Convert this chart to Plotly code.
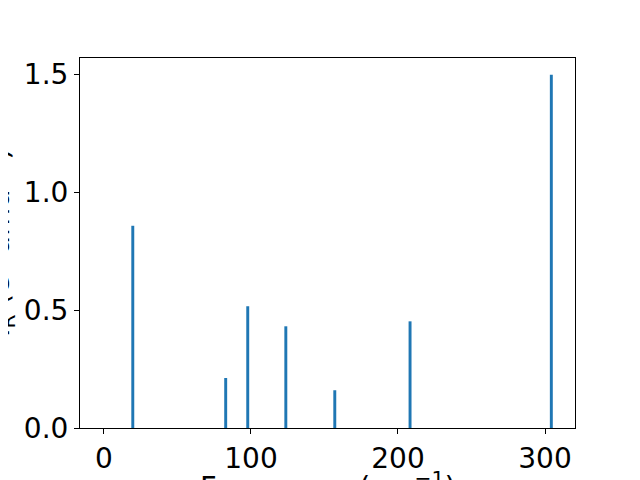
import plotly.graph_objects as go

frequencies = [19.6, 82.8, 97.8, 123.7, 157.0, 208.2, 304.3]
intensities = [0.857, 0.212, 0.516, 0.431, 0.160, 0.452, 1.497]
x_ticks = [0, 100, 200, 300]
y_ticks = [0.0, 0.5, 1.0, 1.5]
x_title = "Frequency (cm<sup>−1</sup>)"
y_title = "I<sub>R</sub> (e<sup>2</sup> amu<sup>−1</sup>)"

fig = go.Figure(go.Bar(x=frequencies, y=intensities, width=2.0,
                       marker=dict(color="#1f77b4", line=dict(width=0))))

font = dict(family="DejaVu Sans", size=28, color="black")
title_font = dict(family="DejaVu Sans", size=29, color="black")
axis_common = dict(showgrid=False, zeroline=False, showline=True, linecolor="black",
                   linewidth=1, mirror=True, ticks="outside", ticklen=5, tickcolor="black",
                   tickfont=font, automargin=False)

# page body offset of 8px is compensated here
OFF = 8
L, R, T, B = 80 - OFF, 575 - OFF, 58 - OFF, 428 - OFF
W, H = R - L, B - T

fig.update_layout(
    width=640, height=480, plot_bgcolor="white", paper_bgcolor="white",
    margin=dict(l=L, r=640 - R, t=T, b=480 - B), showlegend=False,
    xaxis=dict(range=[-16.3, 320.4], tickvals=x_ticks, **axis_common),
    yaxis=dict(range=[0, 1.568], tickvals=y_ticks, tickformat=".1f", **axis_common),
    annotations=[
        dict(text=x_title, xref="paper", yref="paper", x=0.5, y=(B - (464 - OFF)) / H,
             xanchor="center", yanchor="top", showarrow=False, font=title_font),
        dict(text=y_title, xref="paper", yref="paper", x=((22 - OFF) - L) / W, y=0.5,
             xanchor="right", yanchor="middle", textangle=-90, showarrow=False, font=title_font),
    ],
)
fig.write_html("out.html")
